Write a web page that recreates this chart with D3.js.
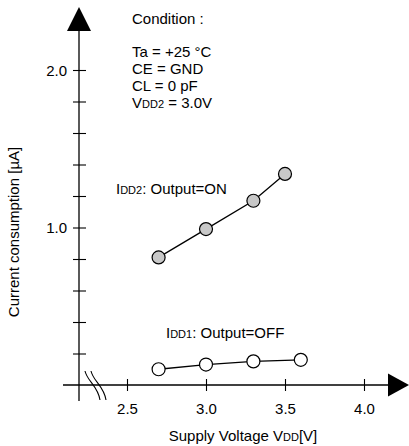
<!DOCTYPE html>
<html>
<head>
<meta charset="utf-8">
<script src="https://cdn.jsdelivr.net/npm/d3@7"></script>
<style>
  body { margin: 0; background: #fff; }
  text { font-family: "Liberation Sans", Arial, sans-serif; fill: #000; }
</style>
</head>
<body>
<div id="chart"></div>
<script>
// data
let voltageOn = [2.7, 3.0, 3.3, 3.5];
let idd2 = [0.81, 0.99, 1.17, 1.34];   // Output=ON
let voltageOff = [2.7, 3.0, 3.3, 3.6];
let idd1 = [0.10, 0.13, 0.15, 0.16];   // Output=OFF
let xTicks = [2.5, 3.0, 3.5, 4.0];
let yTicks = [0.2, 0.4, 0.6, 0.8, 1.0, 1.2, 1.4, 1.6, 1.8, 2.0];
let yLabels = [1.0, 2.0];
let conditions = ["Ta = +25 \u00B0C", "CE = GND", "CL = 0 pF"];

let width = 409, height = 446;

let svg = d3.select("#chart").append("svg")
    .attr("width", width)
    .attr("height", height);

let x = d3.scaleLinear().domain([2.5, 4.0]).range([127, 364]);
let y = d3.scaleLinear().domain([0, 2.0]).range([385, 70]);
let x0 = 79; // y axis position

// axes lines + arrows
svg.append("line")
    .attr("x1", 63).attr("x2", 392)
    .attr("y1", y(0)).attr("y2", y(0))
    .attr("stroke", "#000").attr("stroke-width", 1.3);
svg.append("path")
    .attr("d", "M388," + (y(0) - 11.5) + "L409," + y(0) + "L388," + (y(0) + 11.5) + "Z")
    .attr("fill", "#000");

svg.append("line")
    .attr("x1", x0).attr("x2", x0)
    .attr("y1", 401).attr("y2", 28)
    .attr("stroke", "#000").attr("stroke-width", 1.3);
svg.append("path")
    .attr("d", "M" + (x0 - 12) + ",31L" + x0 + ",7L" + (x0 + 12) + ",31Z")
    .attr("fill", "#000");

// axis break marks
[85, 91].forEach(function (bx) {
    svg.append("path")
        .attr("d", "M" + bx + ",371C" + (bx + 2) + ",381 " + (bx + 13) + ",386 " + (bx + 15) + ",400")
        .attr("fill", "none")
        .attr("stroke", "#000")
        .attr("stroke-width", 1.1);
});

// x ticks
let xAxis = svg.append("g")
    .attr("transform", "translate(0," + y(0) + ")")
    .call(d3.axisBottom(x).tickValues(xTicks).tickSize(6).tickPadding(12).tickFormat(d3.format(".1f")));
xAxis.select(".domain").remove();
xAxis.selectAll(".tick line").attr("y1", -6).attr("y2", 6).attr("stroke-width", 1.1);
xAxis.selectAll(".tick text")
    .style("font-size", "15px")
    .style("font-family", "Liberation Sans, Arial, sans-serif");

// y ticks
let yAxis = svg.append("g")
    .attr("transform", "translate(" + x0 + ",0)")
    .call(d3.axisLeft(y).tickValues(yTicks).tickSize(6).tickPadding(6)
        .tickFormat(function (d) { return yLabels.indexOf(d) >= 0 ? d3.format(".1f")(d) : ""; }));
yAxis.select(".domain").remove();
yAxis.selectAll(".tick line").attr("x1", -6).attr("x2", 7).attr("stroke-width", 1.1);
yAxis.selectAll(".tick text")
    .attr("dy", "0.35em")
    .style("font-size", "15px")
    .style("font-family", "Liberation Sans, Arial, sans-serif");

// axis titles
let xt = svg.append("text")
    .attr("x", 243).attr("y", 441)
    .attr("text-anchor", "middle")
    .style("font-size", "15px");
xt.append("tspan").text("Supply Voltage V");
xt.append("tspan").style("font-size", "11px").text("DD");
xt.append("tspan").text("[V]");

svg.append("text")
    .attr("transform", "translate(19,232) rotate(-90)")
    .attr("text-anchor", "middle")
    .style("font-size", "15px")
    .text("Current consumption [\u00B5A]");

// condition block
svg.append("text")
    .attr("x", 132).attr("y", 24)
    .style("font-size", "15px")
    .text("Condition :");
svg.selectAll(".cond")
    .data(conditions)
    .enter().append("text")
    .attr("class", "cond")
    .attr("x", 132)
    .attr("y", function (d, i) { return 57 + i * 17; })
    .style("font-size", "15px")
    .text(function (d) { return d; });
let vdd2 = svg.append("text")
    .attr("x", 132).attr("y", 108)
    .style("font-size", "15px");
vdd2.append("tspan").text("V");
vdd2.append("tspan").style("font-size", "11px").text("DD2");
vdd2.append("tspan").text(" = 3.0V");

// series
let line = d3.line()
    .x(function (d) { return x(d[0]); })
    .y(function (d) { return y(d[1]); });

function drawSeries(xs, ys, fill) {
    let pts = xs.map(function (v, i) { return [v, ys[i]]; });
    svg.append("path")
        .datum(pts)
        .attr("d", line)
        .attr("fill", "none")
        .attr("stroke", "#000")
        .attr("stroke-width", 1.3);
    svg.selectAll(null)
        .data(pts)
        .enter().append("circle")
        .attr("cx", function (d) { return x(d[0]); })
        .attr("cy", function (d) { return y(d[1]); })
        .attr("r", 6.5)
        .attr("fill", fill)
        .attr("stroke", "#000")
        .attr("stroke-width", 1.2);
}
drawSeries(voltageOn, idd2, "#c8c8c8");
drawSeries(voltageOff, idd1, "#fff");

// series labels
let l2 = svg.append("text").attr("x", 116).attr("y", 194).style("font-size", "15px");
l2.append("tspan").text("I");
l2.append("tspan").style("font-size", "11px").text("DD2");
l2.append("tspan").text(": Output=ON");

let l1 = svg.append("text").attr("x", 166).attr("y", 338).style("font-size", "15px");
l1.append("tspan").text("I");
l1.append("tspan").style("font-size", "11px").text("DD1");
l1.append("tspan").text(": Output=OFF");
</script>
</body>
</html>
